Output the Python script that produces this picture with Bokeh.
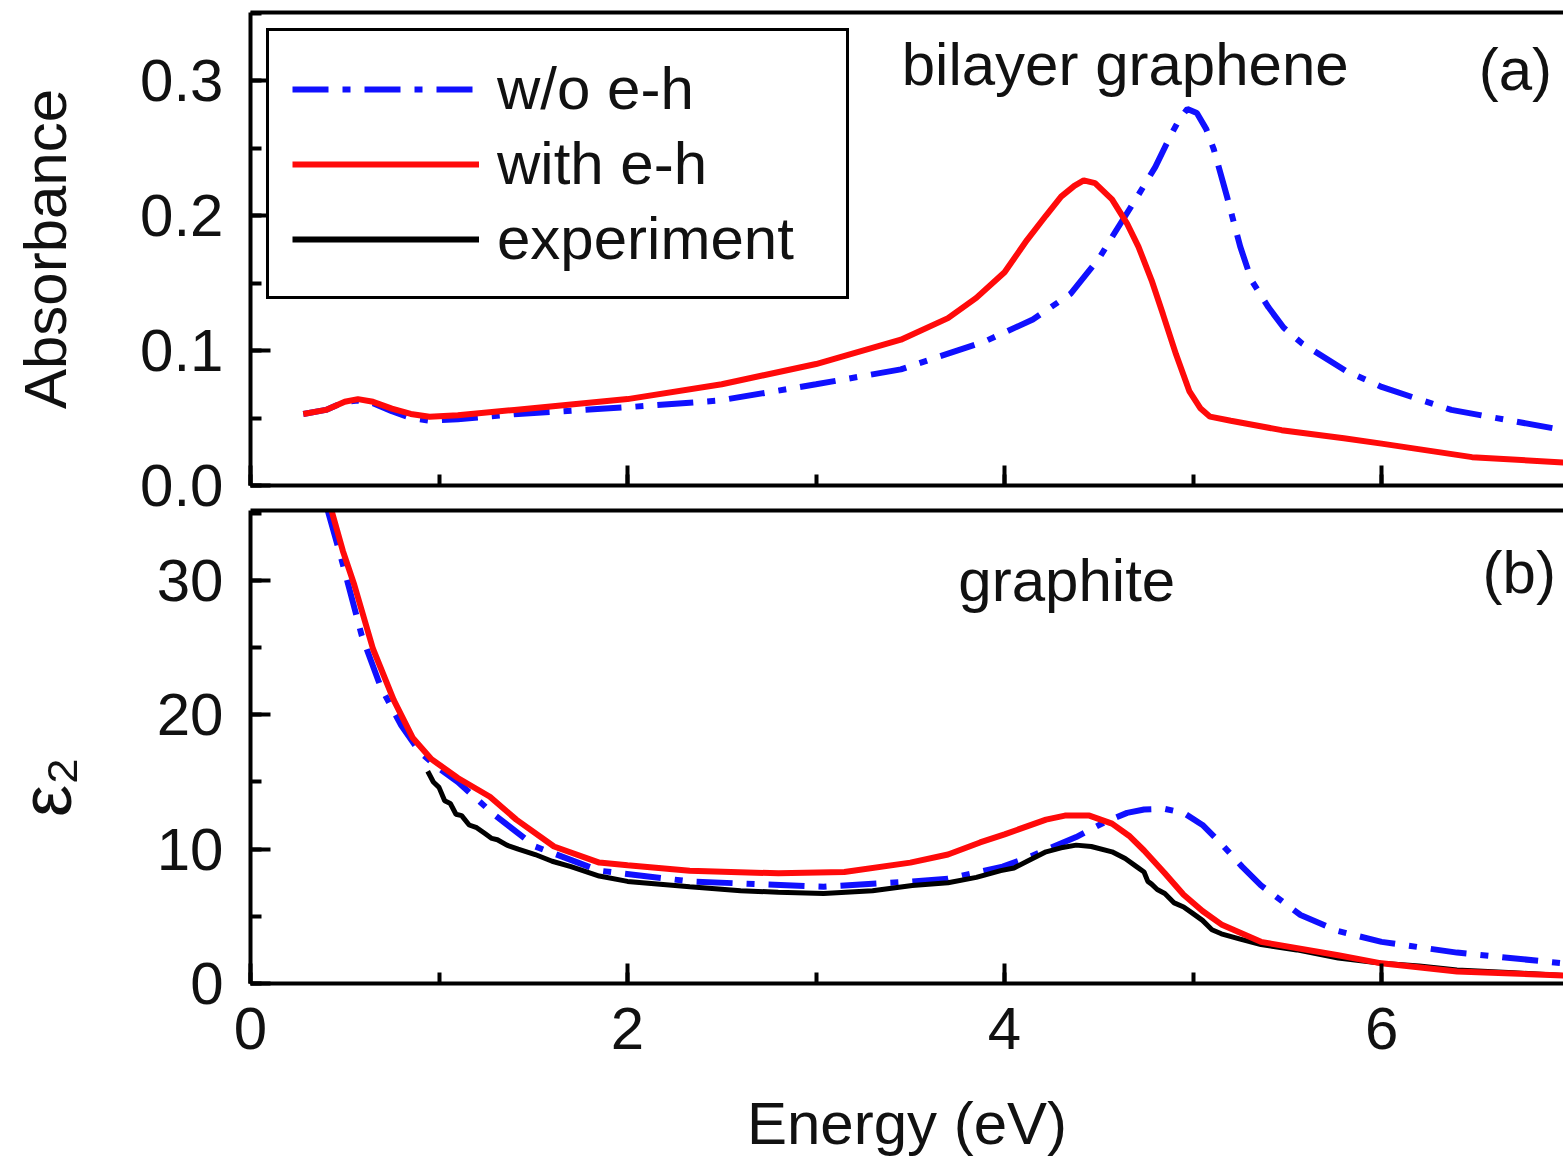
from bokeh.plotting import figure
from bokeh.models import (Legend, LegendItem, LinearAxis, SingleIntervalTicker,
                          FixedTicker, Range1d, Label, NumeralTickFormatter,
                          CustomLabelingPolicy)
from bokeh.layouts import column
from bokeh.embed import file_html
from bokeh.resources import INLINE

# ---------------- data ----------------
# (a) bilayer graphene absorbance
e_abs_noeh = [0.28, 0.4, 0.5, 0.57, 0.65, 0.75, 0.85, 0.95, 1.1, 1.42, 2.0, 2.49, 3.0, 3.45,
              3.9, 4.15, 4.35, 4.5, 4.57, 4.7, 4.8, 4.88, 4.93, 4.97, 5.02, 5.07, 5.11, 5.18,
              5.25, 5.31, 5.40, 5.48, 5.58, 5.81, 6.0, 6.37, 6.965]
abs_noeh = [0.053, 0.056, 0.062, 0.063, 0.061, 0.055, 0.050, 0.048, 0.049, 0.053, 0.058, 0.063,
            0.075, 0.086, 0.107, 0.123, 0.142, 0.168, 0.184, 0.213, 0.236, 0.259, 0.272, 0.279,
            0.276, 0.264, 0.249, 0.214, 0.177, 0.152, 0.132, 0.117, 0.105, 0.085, 0.073, 0.056,
            0.041]

e_abs_eh = [0.28, 0.4, 0.5, 0.57, 0.65, 0.75, 0.85, 0.95, 1.1, 1.4, 1.7, 2.0, 2.5, 3.0, 3.45,
            3.7, 3.85, 4.0, 4.12, 4.22, 4.30, 4.37, 4.42, 4.48, 4.57, 4.65, 4.71, 4.78, 4.84,
            4.91, 4.98, 5.04, 5.09, 5.2, 5.47, 5.8, 6.0, 6.48, 6.965]
abs_eh = [0.053, 0.056, 0.062, 0.064, 0.062, 0.057, 0.053, 0.051, 0.052, 0.056, 0.060, 0.064,
          0.075, 0.090, 0.108, 0.124, 0.139, 0.158, 0.182, 0.200, 0.214, 0.222, 0.226, 0.224,
          0.212, 0.194, 0.177, 0.152, 0.127, 0.097, 0.070, 0.057, 0.051, 0.048, 0.041, 0.035,
          0.031, 0.021, 0.017]

# (b) graphite epsilon_2
e_eps_noeh = [0.41, 0.49, 0.59, 0.69, 0.80, 0.90, 1.0, 1.10, 1.29, 1.51, 1.85, 2.33, 3.04,
              3.51, 3.70, 3.99, 4.11, 4.38, 4.53, 4.65, 4.74, 4.85, 4.95, 5.05, 5.15, 5.26,
              5.36, 5.57, 5.77, 6.0, 6.4, 6.965]
eps_noeh = [35.2, 31.2, 25.9, 22.1, 19.2, 17.2, 16.0, 15.0, 12.6, 10.2, 8.4, 7.6, 7.2, 7.6,
            7.8, 8.7, 9.3, 10.9, 12.0, 12.7, 12.95, 13.0, 12.7, 11.8, 10.4, 8.7, 7.3, 5.1,
            3.9, 3.1, 2.3, 1.5]

e_eps_eh = [0.43, 0.49, 0.55, 0.65, 0.76, 0.86, 0.96, 1.10, 1.27, 1.41, 1.61, 1.85, 2.0, 2.33,
            2.80, 3.15, 3.5, 3.7, 3.87, 4.0, 4.22, 4.32, 4.45, 4.57, 4.66, 4.74, 4.85, 4.95,
            5.05, 5.15, 5.36, 5.77, 6.0, 6.4, 6.965]
eps_eh = [35.2, 32.2, 29.7, 24.9, 21.1, 18.3, 16.7, 15.3, 13.9, 12.2, 10.2, 9.0, 8.8, 8.4,
          8.2, 8.3, 9.0, 9.6, 10.5, 11.1, 12.2, 12.5, 12.5, 11.9, 11.0, 9.9, 8.2, 6.6,
          5.4, 4.4, 3.1, 2.1, 1.5, 0.9, 0.6]

e_exp = [0.94, 0.97, 1.00, 1.03, 1.06, 1.09, 1.12, 1.16, 1.20, 1.24, 1.28, 1.31, 1.36, 1.42,
         1.51, 1.60, 1.70, 1.85, 2.0, 2.33, 2.6, 2.8, 3.04, 3.3, 3.51, 3.7, 3.85, 3.98, 4.05,
         4.12, 4.22, 4.30, 4.38, 4.46, 4.57, 4.64, 4.70, 4.74, 4.76, 4.78, 4.81, 4.85, 4.90,
         4.95, 5.0, 5.05, 5.10, 5.15, 5.25, 5.36, 5.55, 5.77, 6.0, 6.2, 6.4, 6.7, 6.965]
eps_exp = [15.8, 15.0, 14.6, 13.6, 13.4, 12.6, 12.5, 11.8, 11.6, 11.2, 10.8, 10.7, 10.3, 10.0,
           9.6, 9.1, 8.7, 8.0, 7.6, 7.2, 6.9, 6.8, 6.7, 6.9, 7.3, 7.5, 7.9, 8.4, 8.6, 9.1,
           9.8, 10.1, 10.3, 10.2, 9.8, 9.3, 8.7, 8.3, 7.6, 7.4, 7.0, 6.7, 6.0, 5.7, 5.2, 4.7,
           4.0, 3.7, 3.3, 2.9, 2.5, 1.9, 1.5, 1.3, 1.0, 0.8, 0.6]

series_labels = ["w/o e-h", "with e-h", "experiment"]
axis_titles = ["Absorbance", "ε₂\u00a0\u00a0\u00a0\u00a0", "Energy (eV)"]

# ---------------- style ----------------
FONT = "Liberation Sans"
FS = "60px"
TXT = "#111111"
BLUE = "#1010ff"
RED = "#ff0a0a"
BLACK = "#000000"
DASH = "36 14 8 14"
W = 1563
H_TOP = 525
H_BOT = 668
OVERLAP = 30

x_range = Range1d(0, 6.965)


def style_axis(ax):
    ax.axis_line_width = 4
    ax.axis_line_color = BLACK
    ax.major_tick_line_width = 4
    ax.minor_tick_line_width = 4
    ax.major_tick_line_color = BLACK
    ax.minor_tick_line_color = BLACK
    ax.major_tick_in = 20
    ax.major_tick_out = 0
    ax.minor_tick_in = 11
    ax.minor_tick_out = 0
    ax.major_label_text_font = FONT
    ax.major_label_text_font_size = FS
    ax.major_label_text_color = TXT
    ax.axis_label_text_font = FONT
    ax.axis_label_text_font_size = FS
    ax.axis_label_text_font_style = "normal"
    ax.axis_label_text_color = TXT
    ax.axis_label_text_line_height = 0.8


def base(p):
    p.outline_line_color = None
    p.grid.visible = False
    p.background_fill_color = "white"
    top = LinearAxis(ticker=FixedTicker(ticks=[]), major_tick_in=0, major_tick_out=0,
                     minor_tick_in=0, minor_tick_out=0, major_label_standoff=0,
                     axis_line_width=4, axis_line_color=BLACK)
    p.add_layout(top, "above")


def text(p, x, y, s):
    p.add_layout(Label(x=x, y=y, text=s, text_align="center", text_baseline="middle",
                       text_font=FONT, text_font_size=FS, text_color=TXT))


# ---------- (a) ----------
p1 = figure(width=W, height=H_TOP, x_range=x_range, y_range=Range1d(0, 0.3504),
            output_backend="svg", toolbar_location=None,
            min_border_left=250, min_border_right=0, min_border_top=12, min_border_bottom=40)
p1.border_fill_color = "white"
r_b1 = p1.line(e_abs_noeh, abs_noeh, line_color=BLUE, line_width=6, line_dash=DASH)
r_r1 = p1.line(e_abs_eh, abs_eh, line_color=RED, line_width=6)
r_k1 = p1.line(e_exp, eps_exp, line_color=BLACK, line_width=6, visible=False)
base(p1)
xa1 = p1.below[0]
ya1 = p1.left[0]
style_axis(xa1)
style_axis(ya1)
xa1.ticker = SingleIntervalTicker(interval=2, num_minor_ticks=2)
xa1.major_label_policy = CustomLabelingPolicy(code="return []")
xa1.major_label_text_font_size = "1px"
xa1.major_label_standoff = 0
ya1.ticker = SingleIntervalTicker(interval=0.1, num_minor_ticks=2)
ya1.formatter = NumeralTickFormatter(format="0.0")
ya1.major_label_standoff = 27
ya1.axis_label = axis_titles[0]
ya1.axis_label_standoff = 58

legend = Legend(items=[LegendItem(label=series_labels[0], renderers=[r_b1]),
                       LegendItem(label=series_labels[1], renderers=[r_r1]),
                       LegendItem(label=series_labels[2], renderers=[r_k1])],
                location="top_left", margin=16, padding=23, spacing=6,
                glyph_width=187, glyph_height=58, label_height=58, label_width=326,
                label_standoff=18, label_text_font=FONT, label_text_font_size=FS,
                label_text_color=TXT, border_line_color=BLACK, border_line_width=3,
                border_line_alpha=1.0, background_fill_color="white",
                background_fill_alpha=1.0)
p1.add_layout(legend)

text(p1, 4.64, 0.312, "bilayer graphene")
text(p1, 6.71, 0.308, "(a)")

# ---------- (b) ----------
p2 = figure(width=W, height=H_BOT, x_range=x_range, y_range=Range1d(0, 35.21),
            output_backend="svg", toolbar_location=None,
            min_border_left=250, min_border_right=0, min_border_top=15, min_border_bottom=180)
p2.border_fill_alpha = 0.0
p2.margin = (-OVERLAP, 0, 0, 0)
p2.line(e_eps_noeh, eps_noeh, line_color=BLUE, line_width=6, line_dash=DASH)
p2.line(e_exp, eps_exp, line_color=BLACK, line_width=5)
p2.line(e_eps_eh, eps_eh, line_color=RED, line_width=6)
base(p2)
xa2 = p2.below[0]
ya2 = p2.left[0]
style_axis(xa2)
style_axis(ya2)
xa2.ticker = SingleIntervalTicker(interval=2, num_minor_ticks=2)
xa2.major_label_standoff = 24
xa2.axis_label = axis_titles[2]
xa2.axis_label_standoff = 38
ya2.ticker = SingleIntervalTicker(interval=10, num_minor_ticks=2)
ya2.major_label_standoff = 27
ya2.axis_label = axis_titles[1]
ya2.axis_label_text_font_size = "72px"
ya2.axis_label_standoff = 68

text(p2, 4.33, 30.0, "graphite")
text(p2, 6.73, 30.6, "(b)")

layout = column(p1, p2, spacing=0)
open("out.html", "w").write(file_html(layout, INLINE))
